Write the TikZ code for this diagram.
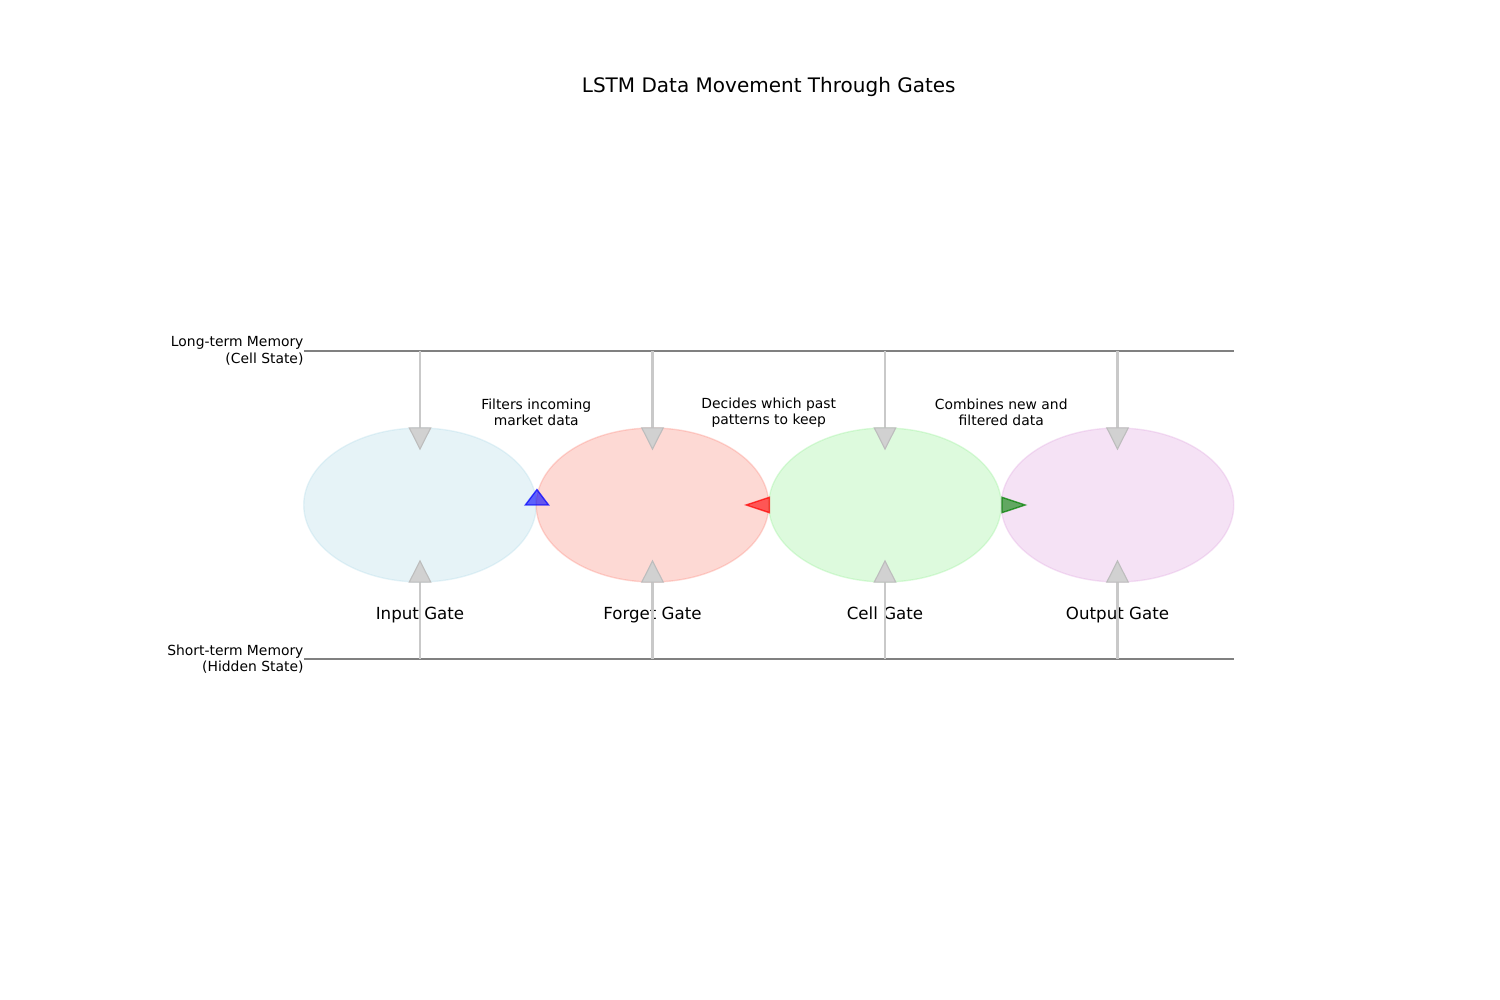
\documentclass[tikz,border=0pt]{standalone}
\usepackage{fontspec}
\setmainfont{DejaVu Sans}
\usetikzlibrary{shapes.geometric,arrows.meta}

\definecolor{gatea}{RGB}{173,216,230}
\definecolor{gateb}{RGB}{250,128,114}
\definecolor{gatec}{RGB}{144,238,144}
\definecolor{gated}{RGB}{221,160,221}
\definecolor{flowgreen}{RGB}{0,128,0}

\newcommand*{\ltmy}{7}
\newcommand*{\stmy}{3}
\newcommand*{\linel}{1}
\newcommand*{\liner}{9}

\begin{document}
\begin{tikzpicture}
[
	x=1.1625in,
	y=0.77in,
	gate/.style={ellipse,draw=#1,fill=#1,opacity=0.3,line width=1bp,minimum width=2.325in,minimum height=1.54in,inner sep=0pt},
	memline/.style={draw=gray,line width=2bp},
	feed/.style={draw=gray!42,line width=1.9bp,-{Triangle[width=0.23in,length=0.23in,fill=gray!36,color=gray!52,line width=0.8bp]}},
	flowhead/.style={fill=#1,draw=#1,fill opacity=0.6,draw opacity=0.7,line width=1bp,line join=miter},
	note/.style={font=\fontsize{10bp}{11.8bp}\selectfont,align=center,inner sep=0pt},
	memlabel/.style={font=\fontsize{10bp}{11.8bp}\selectfont,align=right,anchor=east,inner sep=0pt},
	gatelabel/.style={font=\fontsize{12bp}{14bp}\selectfont,inner sep=0pt,anchor=base}
]

	\useasboundingbox (-1.6129,-1.4286) rectangle (11.2903,11.5584);

	% title
	\node[font=\fontsize{14.4bp}{17bp}\selectfont,inner sep=0pt] (title) at (5,10.43) {LSTM Data Movement Through Gates};

	% memory lines
	\coordinate (ltmL) at (\linel,\ltmy);
	\coordinate (ltmR) at (\liner,\ltmy);
	\coordinate (stmL) at (\linel,\stmy);
	\coordinate (stmR) at (\liner,\stmy);
	\draw[memline] (ltmL) -- (ltmR);
	\draw[memline] (stmL) -- (stmR);
	\node[memlabel] (ltmlbl) at (ltmL) {Long-term Memory\\(Cell State)};
	\node[memlabel] (stmlbl) at (stmL) {Short-term Memory\\(Hidden State)};

	% gates
	\foreach \name/\x/\col/\txt in {inputg/2/gatea/Input Gate,forgetg/4/gateb/Forget Gate,cellg/6/gatec/Cell Gate,outputg/8/gated/Output Gate} {
		\node[gate=\col] (\name) at (\x,5) {};
		\node[gatelabel] (\name-lbl) at (\x,3.51) {\txt};
	}

	% feeds from both memories
	\foreach \name in {inputg,forgetg,cellg,outputg} {
		\draw[feed] (\name.north |- ltmL) -- ([yshift=-0.23in]\name.north);
		\draw[feed] (\name.south |- stmL) -- ([yshift=0.23in]\name.south);
	}

	% flow between gates
	\draw[flowhead=blue] (inputg.east) ++(-0.1,0) -- ++(0.1,0.2) -- ++(0.1,-0.2) -- cycle;
	\draw[flowhead=red] (forgetg.east) ++(0,0.1) -- ++(-0.2,-0.1) -- ++(0.2,-0.1) -- cycle;
	\draw[flowhead=flowgreen] (cellg.east) ++(0,0.1) -- ++(0.2,-0.1) -- ++(-0.2,-0.1) -- cycle;

	% notes
	\node[note] (note1) at (3,6.2) {Filters incoming\\market data};
	\node[note] (note2) at (5,6.2) {Decides which past\\patterns to keep};
	\node[note] (note3) at (7,6.2) {Combines new and\\filtered data};

\end{tikzpicture}
\end{document}
